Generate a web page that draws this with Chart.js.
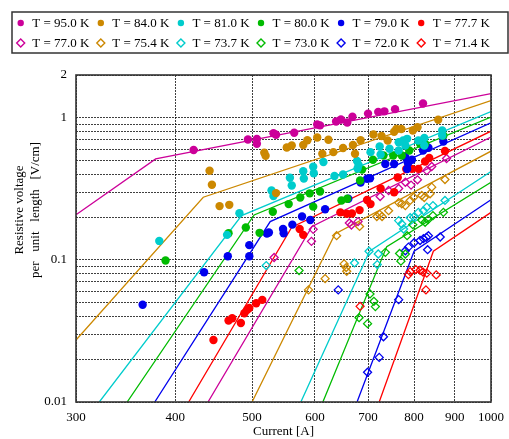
<!DOCTYPE html>
<html>
<head>
<meta charset="utf-8">
<script src="https://cdn.jsdelivr.net/npm/chart.js@4"></script>
<style>
  html, body { margin: 0; padding: 0; background: #fff; }
</style>
</head>
<body>
<canvas id="grafico" width="509" height="439"></canvas>
<script>
// puntos medidos [corriente A, tension V/cm]
const t950 = [[422,0.593],[494,0.703],[507,0.709],[507,0.656],[532,0.779],[536,0.759],[565,0.784],[604,0.897],[609,0.884],[638,0.942],[647,0.973],[659,0.927],[669,1.016],[700,1.07],[721,1.10],[734,1.11],[757,1.15],[821,1.26]];
const t840 = [[442,0.424],[445,0.338],[455,0.239],[468,0.244],[518,0.567],[520,0.540],[536,0.295],[553,0.618],[561,0.638],[580,0.643],[587,0.695],[604,0.727],[624,0.701],[613,0.558],[633,0.573],[651,0.613],[670,0.643],[674,0.558],[685,0.695],[711,0.763],[728,0.744],[741,0.692],[755,0.797],[760,0.834],[771,0.834],[797,0.814],[808,0.859],[858,0.968]];
const t810 = [[382,0.136],[465,0.150],[482,0.213],[529,0.308],[532,0.281],[558,0.378],[561,0.334],[580,0.421],[581,0.374],[597,0.452],[598,0.407],[615,0.488],[635,0.389],[651,0.399],[678,0.496],[681,0.465],[679,0.440],[705,0.573],[724,0.628],[726,0.551],[745,0.605],[765,0.673],[765,0.589],[775,0.692],[780,0.638],[784,0.711],[810,0.692],[824,0.721],[824,0.638],[868,0.814],[868,0.750]];
const t800 = [[389,0.099],[467,0.154],[491,0.169],[511,0.155],[531,0.218],[556,0.247],[575,0.275],[591,0.294],[597,0.237],[609,0.303],[648,0.262],[659,0.269],[684,0.362],[688,0.432],[710,0.506],[732,0.543],[753,0.543],[772,0.543],[789,0.589],[814,0.656],[826,0.656],[871,0.750]];
const t790 = [[364,0.0484],[435,0.0818],[466,0.106],[496,0.127],[496,0.106],[522,0.153],[525,0.156],[547,0.165],[548,0.154],[562,0.177],[578,0.202],[592,0.191],[618,0.227],[661,0.269],[685,0.350],[698,0.372],[704,0.375],[736,0.473],[755,0.473],[780,0.530],[786,0.479],[795,0.506],[784,0.436],[821,0.589],[834,0.615],[871,0.681]];
const t777 = [[447,0.0273],[467,0.0374],[472,0.0388],[484,0.0360],[489,0.0421],[493,0.0445],[496,0.0459],[506,0.0495],[515,0.0523],[574,0.165],[580,0.150],[646,0.216],[658,0.211],[668,0.212],[683,0.224],[698,0.264],[705,0.247],[726,0.318],[755,0.299],[763,0.380],[782,0.436],[795,0.437],[810,0.437],[826,0.492],[836,0.521],[875,0.584]];
const t770 = [[533,0.104],[594,0.135],[597,0.164],[663,0.182],[667,0.176],[680,0.186],[725,0.279],[743,0.308],[765,0.318],[780,0.352],[793,0.336],[808,0.366],[830,0.425],[842,0.454],[879,0.517]];
const t754 = [[589,0.0615],[618,0.0738],[639,0.148],[653,0.0937],[657,0.0883],[658,0.0831],[683,0.172],[718,0.202],[724,0.209],[729,0.202],[743,0.222],[765,0.253],[772,0.248],[780,0.241],[791,0.262],[799,0.276],[818,0.284],[824,0.275],[838,0.292],[842,0.325],[875,0.368]];
const t737 = [[521,0.0912],[673,0.0952],[702,0.115],[719,0.0927],[721,0.110],[765,0.189],[772,0.179],[776,0.165],[791,0.198],[799,0.200],[810,0.216],[822,0.222],[830,0.235],[845,0.241],[875,0.262]];
const t730 = [[573,0.0841],[682,0.0392],[699,0.0356],[704,0.0576],[712,0.0511],[715,0.0469],[736,0.113],[767,0.111],[770,0.098],[780,0.110],[784,0.148],[797,0.177],[818,0.191],[826,0.184],[833,0.192],[845,0.205],[871,0.216]];
const t720 = [[642,0.0615],[699,0.0162],[723,0.0206],[732,0.0288],[765,0.0525],[780,0.116],[787,0.123],[800,0.132],[814,0.137],[822,0.141],[829,0.144],[834,0.148],[832,0.118],[863,0.145]];
const t714 = [[684,0.0471],[787,0.0788],[791,0.0827],[804,0.0855],[814,0.0845],[821,0.0821],[830,0.0807],[828,0.0615],[853,0.0784]];

// rectas de ajuste (inicio, codo, fin)
const fit950 = [[300,0.208],[378,0.514],[1000,1.48]];
const fit840 = [[300,0.0273],[434,0.276],[1000,1.32]];
const fit810 = [[321,0.01],[485,0.205],[1000,1.107]];
const fit800 = [[348,0.01],[503,0.207],[1000,1.01]];
const fit790 = [[377,0.01],[527,0.186],[1000,0.922]];
const fit777 = [[416,0.01],[561,0.170],[1000,0.805]];
const fit770 = [[440,0.01],[595,0.172],[1000,0.732]];
const fit754 = [[500,0.01],[636,0.152],[1000,0.582]];
const fit737 = [[576,0.01],[703,0.115],[1000,0.419]];
const fit730 = [[614,0.01],[739,0.124],[1000,0.352]];
const fit720 = [[678,0.01],[800,0.115],[1000,0.265]];
const fit714 = [[723,0.01],[846,0.115],[1000,0.216]];

const etiquetas = ['T = 95.0 K','T = 84.0 K','T = 81.0 K','T = 80.0 K','T = 79.0 K','T = 77.7 K',
                   'T = 77.0 K','T = 75.4 K','T = 73.7 K','T = 73.0 K','T = 72.0 K','T = 71.4 K'];
const colores = ['#cc0099','#cc8800','#00cccc','#00bb00','#0000ee','#ff0000'];

const xTicks = [300,400,500,600,700,800,900,1000];
const yTicks = [0.01,0.02,0.03,0.04,0.05,0.06,0.07,0.08,0.09,0.1,0.2,0.3,0.4,0.5,0.6,0.7,0.8,0.9,1,2];
const yLabels = [0.01,0.1,1,2];
const tituloY = ['Resistive voltage', 'per   unit   length   [V/cm]'];

const puntos = [t950,t840,t810,t800,t790,t777,t770,t754,t737,t730,t720,t714];
const ajustes = [fit950,fit840,fit810,fit800,fit790,fit777,fit770,fit754,fit737,fit730,fit720,fit714];

const fuente = "'Liberation Serif', 'Times New Roman', serif";

let datasets = [];
puntos.forEach((serie, k) => {
    const color = colores[k % 6];
    const abierto = k >= 6;
    datasets.push({
        label: etiquetas[k],
        data: serie.map(p => ({x: p[0], y: p[1]})),
        pointStyle: abierto ? 'rectRot' : 'circle',
        pointRadius: abierto ? 4 : 4.2,
        pointBorderColor: color,
        pointBackgroundColor: abierto ? 'rgba(0,0,0,0)' : color,
        pointBorderWidth: abierto ? 1.3 : 0,
        borderColor: color,
        backgroundColor: color
    });
});
ajustes.forEach((serie, k) => {
    datasets.push({
        label: '',
        data: serie.map(p => ({x: p[0], y: p[1]})),
        showLine: true,
        pointRadius: 0,
        borderColor: colores[k % 6],
        borderWidth: 1.3,
        fill: false
    });
});

function marcador(ctx, x, y, abierto, color){
    ctx.save();
    if(abierto){
        ctx.strokeStyle = color;
        ctx.lineWidth = 1.4;
        ctx.beginPath();
        ctx.moveTo(x, y - 4); ctx.lineTo(x + 4, y); ctx.lineTo(x, y + 4); ctx.lineTo(x - 4, y);
        ctx.closePath();
        ctx.stroke();
    }else{
        ctx.fillStyle = color;
        ctx.beginPath();
        ctx.arc(x, y, 3.2, 0, Math.PI * 2);
        ctx.fill();
    }
    ctx.restore();
}

const marco = {
    id: 'marco',
    afterDatasetsDraw(chart){
        const {ctx, chartArea: a} = chart;
        ctx.save();
        ctx.strokeStyle = '#333';
        ctx.lineWidth = 1.6;
        ctx.strokeRect(a.left, a.top, a.right - a.left, a.bottom - a.top);
        ctx.restore();
    },
    afterDraw(chart){
        const ctx = chart.ctx;
        ctx.save();
        ctx.strokeStyle = '#333';
        ctx.lineWidth = 1.5;
        ctx.strokeRect(12, 12, 496, 41);
        ctx.font = '13px ' + fuente;
        ctx.fillStyle = '#000';
        ctx.textBaseline = 'middle';
        for(let k = 0; k < 12; k++){
            const col = k % 6;
            const fila = Math.floor(k / 6);
            const x = 20.7 + col * 80.1;
            const y = 23 + fila * 20;
            marcador(ctx, x, y, k >= 6, colores[col]);
            ctx.fillText(etiquetas[k], x + 11.5, y + 0.5);
        }
        // titulo del eje y
        ctx.translate(0, 210);
        ctx.rotate(-Math.PI / 2);
        ctx.textAlign = 'center';
        ctx.fillText(tituloY[0], 0, 20);
        ctx.fillText(tituloY[1], 0, 36);
        ctx.restore();
    }
};

new Chart(document.querySelector('#grafico'), {
    type: 'scatter',
    data: { datasets: datasets },
    plugins: [marco],
    options: {
        responsive: false,
        animation: false,
        layout: { padding: { top: 75, right: 18, left: 0, bottom: 0 } },
        plugins: { legend: { display: false }, tooltip: { enabled: false } },
        scales: {
            x: {
                type: 'logarithmic',
                min: 300,
                max: 1000,
                afterBuildTicks: s => { s.ticks = xTicks.map(v => ({value: v})); },
                afterFit: s => { s.height = 37; s.paddingLeft = 0; s.paddingRight = 0; },
                ticks: {
                    autoSkip: false,
                    maxRotation: 0,
                    padding: 8,
                    color: '#000',
                    font: { family: fuente, size: 13 },
                    callback: v => String(v)
                },
                grid: { color: 'rgba(0,0,0,0.75)', lineWidth: 1, drawTicks: false },
                border: { display: false, dash: [2, 1] },
                title: {
                    display: true,
                    text: 'Current [A]',
                    color: '#000',
                    font: { family: fuente, size: 13 },
                    padding: { top: 0, bottom: 0 }
                }
            },
            y: {
                type: 'logarithmic',
                min: 0.01,
                max: 2,
                afterBuildTicks: s => { s.ticks = yTicks.map(v => ({value: v})); },
                afterFit: s => { s.width = 76; s.paddingTop = 0; s.paddingBottom = 0; },
                ticks: {
                    autoSkip: false,
                    padding: 9,
                    color: '#000',
                    font: { family: fuente, size: 13 },
                    callback: v => yLabels.includes(v) ? String(v) : ''
                },
                grid: { color: 'rgba(0,0,0,0.75)', lineWidth: 1, drawTicks: false },
                border: { display: false, dash: [2, 1] }
            }
        }
    }
});
</script>
</body>
</html>
